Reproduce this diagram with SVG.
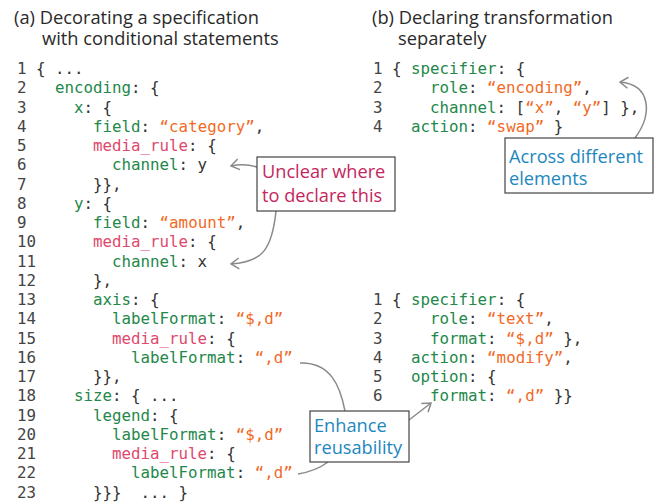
<svg xmlns="http://www.w3.org/2000/svg" width="656" height="504" viewBox="0 0 656 504">
<style>
text{font-family:"DejaVu Sans Mono","Liberation Mono",monospace;font-size:15.8px;fill:#333}
.n{fill:#444}
.g{fill:#23884a}
.p{fill:#e0486e}
.o{fill:#f26a26}
.t{font-family:"Open Sans",Lato,sans-serif;font-size:18.3px;fill:#2a2a2a}
.a{font-family:"Open Sans",Lato,sans-serif;font-size:18.2px}
.m{fill:#c4265e}
.b{fill:#1d87c0}
.box{fill:#fff;stroke:#444;stroke-width:1.2}
.cn{fill:none;stroke:#8a8a8a;stroke-width:1.5}
</style>
<defs>
<marker id="ah" markerWidth="14" markerHeight="14" refX="11" refY="7" orient="auto" markerUnits="userSpaceOnUse">
<path d="M3,1.5 L11,7 L3,12.5" fill="none" stroke="#8a8a8a" stroke-width="1.5"/>
</marker>
</defs>

<g id="title-a">
<text class="t" x="14" y="24">(a) Decorating a specification</text>
<text class="t" x="42" y="45">with conditional statements</text>
</g>
<g id="title-b">
<text class="t" x="372" y="24">(b) Declaring transformation</text>
<text class="t" x="398" y="45">separately</text>
</g>

<g id="code-a">
<text class="n" x="17" y="74">1</text><text x="36" y="74">{ ...</text>
<text class="n" x="17" y="93.25">2</text><text x="55" y="93.25"><tspan class="g">encoding</tspan>: {</text>
<text class="n" x="17" y="112.5">3</text><text x="74" y="112.5"><tspan class="g">x</tspan>: {</text>
<text class="n" x="17" y="131.75">4</text><text x="93" y="131.75"><tspan class="g">field</tspan>: <tspan class="o">“category”</tspan>,</text>
<text class="n" x="17" y="151">5</text><text x="93" y="151"><tspan class="p">media_rule</tspan>: {</text>
<text class="n" x="17" y="170.25">6</text><text x="112" y="170.25"><tspan class="g">channel</tspan>: y</text>
<text class="n" x="17" y="189.5">7</text><text x="93" y="189.5">}},</text>
<text class="n" x="17" y="208.75">8</text><text x="74" y="208.75"><tspan class="g">y</tspan>: {</text>
<text class="n" x="17" y="228">9</text><text x="93" y="228"><tspan class="g">field</tspan>: <tspan class="o">“amount”</tspan>,</text>
<text class="n" x="17" y="247.25">10</text><text x="93" y="247.25"><tspan class="p">media_rule</tspan>: {</text>
<text class="n" x="17" y="266.5">11</text><text x="112" y="266.5"><tspan class="g">channel</tspan>: x</text>
<text class="n" x="17" y="285.75">12</text><text x="93" y="285.75">},</text>
<text class="n" x="17" y="305">13</text><text x="93" y="305"><tspan class="g">axis</tspan>: {</text>
<text class="n" x="17" y="324.25">14</text><text x="112" y="324.25"><tspan class="g">labelFormat</tspan>: <tspan class="o">“$,d”</tspan></text>
<text class="n" x="17" y="343.5">15</text><text x="112" y="343.5"><tspan class="p">media_rule</tspan>: {</text>
<text class="n" x="17" y="362.75">16</text><text x="131" y="362.75"><tspan class="g">labelFormat</tspan>: <tspan class="o">“,d”</tspan></text>
<text class="n" x="17" y="382">17</text><text x="93" y="382">}},</text>
<text class="n" x="17" y="401.25">18</text><text x="74" y="401.25"><tspan class="g">size</tspan>: { ...</text>
<text class="n" x="17" y="420.5">19</text><text x="93" y="420.5"><tspan class="g">legend</tspan>: {</text>
<text class="n" x="17" y="439.75">20</text><text x="112" y="439.75"><tspan class="g">labelFormat</tspan>: <tspan class="o">“$,d”</tspan></text>
<text class="n" x="17" y="459">21</text><text x="112" y="459"><tspan class="p">media_rule</tspan>: {</text>
<text class="n" x="17" y="478.25">22</text><text x="131" y="478.25"><tspan class="g">labelFormat</tspan>: <tspan class="o">“,d”</tspan></text>
<text class="n" x="17" y="497.5">23</text><text x="93" y="497.5" xml:space="preserve">}}}  ... }</text>
</g>

<g id="code-b1">
<text class="n" x="373" y="74">1</text><text x="392" y="74">{ <tspan class="g">specifier</tspan>: {</text>
<text class="n" x="373" y="93.25">2</text><text x="430" y="93.25"><tspan class="g">role</tspan>: <tspan class="o">“encoding”</tspan>,</text>
<text class="n" x="373" y="112.5">3</text><text x="430" y="112.5"><tspan class="g">channel</tspan>: [<tspan class="o">“x”</tspan>, <tspan class="o">“y”</tspan>] },</text>
<text class="n" x="373" y="131.75">4</text><text x="411" y="131.75"><tspan class="g">action</tspan>: <tspan class="o">“swap”</tspan> }</text>
</g>

<g id="code-b2">
<text class="n" x="373" y="305">1</text><text x="392" y="305">{ <tspan class="g">specifier</tspan>: {</text>
<text class="n" x="373" y="324.25">2</text><text x="430" y="324.25"><tspan class="g">role</tspan>: <tspan class="o">“text”</tspan>,</text>
<text class="n" x="373" y="343.5">3</text><text x="430" y="343.5"><tspan class="g">format</tspan>: <tspan class="o">“$,d”</tspan> },</text>
<text class="n" x="373" y="362.75">4</text><text x="411" y="362.75"><tspan class="g">action</tspan>: <tspan class="o">“modify”</tspan>,</text>
<text class="n" x="373" y="382">5</text><text x="411" y="382"><tspan class="g">option</tspan>: {</text>
<text class="n" x="373" y="401.25">6</text><text x="430" y="401.25"><tspan class="g">format</tspan>: <tspan class="o">“,d”</tspan> }}</text>
</g>

<g id="connectors">
<path class="cn" d="M257,167 C248,164 240,164 231,166" marker-end="url(#ah)"/>
<path class="cn" d="M276,211 C272,250 262,262 231,264" marker-end="url(#ah)"/>
<path class="cn" d="M635,138 C652,115 652,85 620,82" marker-end="url(#ah)"/>
<path class="cn" d="M300,363 C330,362 340,385 345,411"/>
<path class="cn" d="M298,474 C310,472 320,468 328,462"/>
<path class="cn" d="M409,420 L431,403" marker-end="url(#ah)"/>
</g>

<g id="note-unclear">
<rect class="box" x="257" y="157" width="138" height="54"/>
<text class="a m" x="262" y="178">Unclear where</text>
<text class="a m" x="262" y="202">to declare this</text>
</g>
<g id="note-across">
<rect class="box" x="505" y="138" width="148" height="55"/>
<text class="a b" x="509" y="163">Across different</text>
<text class="a b" x="509" y="185">elements</text>
</g>
<g id="note-enhance">
<rect class="box" x="310" y="411" width="99" height="51"/>
<text class="a b" x="314" y="432">Enhance</text>
<text class="a b" x="314" y="454">reusability</text>
</g>
</svg>
